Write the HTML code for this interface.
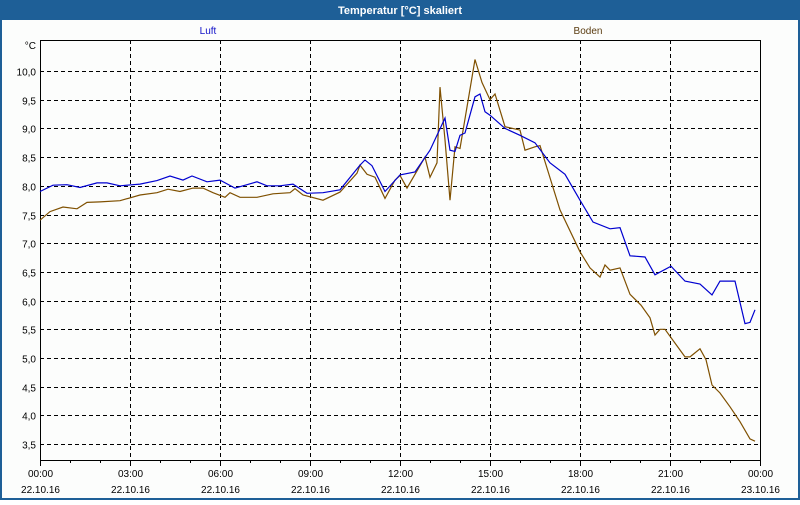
<!DOCTYPE html>
<html><head><meta charset="utf-8"><style>
body{margin:0;width:800px;height:500px;overflow:hidden;background:#fff;font-family:"Liberation Sans","DejaVu Sans",sans-serif}
</style></head><body>
<svg id="chart" width="800" height="500" xmlns="http://www.w3.org/2000/svg" font-family="Liberation Sans, DejaVu Sans, sans-serif">
<rect x="0" y="0" width="800" height="500" fill="#1e5f97"/>
<rect x="2" y="20" width="796" height="478" fill="#fcfdfc"/>
<text x="400" y="14" text-anchor="middle" font-size="11" font-weight="bold" fill="#fff">Temperatur [°C] skaliert</text>
<text x="208" y="34" text-anchor="middle" font-size="10" fill="#1010c8">Luft</text>
<text x="588" y="34" text-anchor="middle" font-size="10" fill="#5a3c10">Boden</text>
<text x="36" y="49" text-anchor="end" font-size="10" fill="#000">°C</text>
<g id="grid"></g>
<g id="axes"></g>
<g id="series"></g>
</svg>
<script>
const yTicks = [3.5,4.0,4.5,5.0,5.5,6.0,6.5,7.0,7.5,8.0,8.5,9.0,9.5,10.0];
const xTickHours = [0,3,6,9,12,15,18,21,24];
const xTimeLabels = ["00:00","03:00","06:00","09:00","12:00","15:00","18:00","21:00","00:00"];
const xDateLabels = ["22.10.16","22.10.16","22.10.16","22.10.16","22.10.16","22.10.16","22.10.16","22.10.16","23.10.16"];
const luftMinutes = [0,26,54,80,114,134,160,200,234,260,286,304,334,360,390,414,434,454,480,506,534,566,600,640,650,664,690,720,750,780,810,820,830,840,850,870,880,890,900,930,960,990,1020,1050,1080,1106,1140,1160,1180,1210,1230,1262,1290,1320,1344,1360,1390,1410,1420,1430];
const luftValues = [7.9,8.01,8.02,7.97,8.05,8.05,8.0,8.03,8.09,8.17,8.1,8.17,8.07,8.1,7.96,8.02,8.07,8.0,8.0,8.03,7.87,7.88,7.93,8.36,8.45,8.35,7.9,8.19,8.24,8.62,9.18,8.62,8.6,8.88,8.92,9.55,9.6,9.29,9.23,9.0,8.88,8.75,8.4,8.2,7.75,7.37,7.25,7.27,6.78,6.76,6.45,6.6,6.34,6.29,6.1,6.34,6.34,5.6,5.62,5.84];
const bodenMinutes = [0,20,46,74,94,120,160,200,234,256,280,306,326,346,370,380,400,434,466,500,510,526,566,600,634,640,654,670,690,710,720,734,770,780,794,800,810,820,830,840,870,884,900,910,930,960,970,990,1000,1040,1080,1100,1120,1130,1140,1160,1180,1202,1220,1230,1240,1250,1270,1290,1300,1320,1332,1344,1360,1380,1400,1420,1430];
const bodenValues = [7.4,7.55,7.63,7.6,7.71,7.72,7.74,7.84,7.88,7.94,7.9,7.96,7.96,7.88,7.8,7.88,7.8,7.8,7.86,7.88,7.95,7.84,7.75,7.89,8.22,8.36,8.2,8.15,7.78,8.1,8.18,7.96,8.5,8.15,8.4,9.72,8.8,7.75,8.68,8.65,10.2,9.8,9.5,9.6,9.03,8.97,8.62,8.68,8.7,7.58,6.85,6.57,6.41,6.62,6.53,6.57,6.11,5.92,5.7,5.4,5.5,5.5,5.26,5.02,5.02,5.16,4.97,4.53,4.39,4.15,3.89,3.59,3.55];

const NS="http://www.w3.org/2000/svg";
const L=40,R=760,T=40,B=460;
function xScale(min){return L+(min/1440)*(R-L);}
function yScale(v){return 71+(10-v)*57.4;}
function mk(tag,attrs,parent){const e=document.createElementNS(NS,tag);for(const k in attrs)e.setAttribute(k,attrs[k]);parent.appendChild(e);return e;}
const grid=document.getElementById('grid'),axes=document.getElementById('axes'),series=document.getElementById('series');
yTicks.forEach(v=>{
  const y=Math.round(yScale(v))+0.5;
  const g=mk('line',{x1:L,x2:R,y1:y,y2:y,stroke:'#000','stroke-dasharray':'4,3','stroke-width':1},grid);
  
  
  const t=mk('text',{x:36,y:y+4,'text-anchor':'end','font-size':10,fill:'#000'},axes);
  t.textContent=v.toFixed(1).replace('.',',');
  
  
});
xTickHours.forEach((h,i)=>{
  const x=Math.round(xScale(h*60))+0.5;
  if(h>0&&h<24){
    const g=mk('line',{x1:x,x2:x,y1:T,y2:B,stroke:'#000','stroke-dasharray':'4,3','stroke-width':1},grid);
    
    
  }
  const t1=mk('text',{x:x,y:477,'text-anchor':'middle','font-size':10,fill:'#000'},axes);
  t1.textContent=xTimeLabels[i];
  
  
  const t2=mk('text',{x:x,y:493,'text-anchor':'middle','font-size':10,fill:'#000'},axes);
  t2.textContent=xDateLabels[i];
  
  
});
for(let h=0;h<=24;h++){
  const x=Math.round(xScale(h*60))+0.5;
  const tk=mk('line',{x1:x,x2:x,y1:B,y2:B+(h%3===0?6:3),stroke:'#000'},axes);
  
  
}
const frame=mk('path',{d:`M${L+0.5},${T+0.5}H${R+0.5}V${B+0.5}H${L+0.5}Z`,fill:'none',stroke:'#000','stroke-width':1},axes);


function line(mins,vals,color,name){
  const n=Math.min(mins.length,vals.length);
  let d='';
  for(let i=0;i<n;i++)d+=(i?'L':'M')+xScale(mins[i]).toFixed(1)+','+yScale(vals[i]).toFixed(1);
  const p=mk('path',{d:d,fill:'none',stroke:color,'stroke-width':1.2},series);
  
  
}
line(bodenMinutes,bodenValues,'#7f5000','boden-line');
line(luftMinutes,luftValues,'#0000d0','luft-line');
</script>
</body></html>
